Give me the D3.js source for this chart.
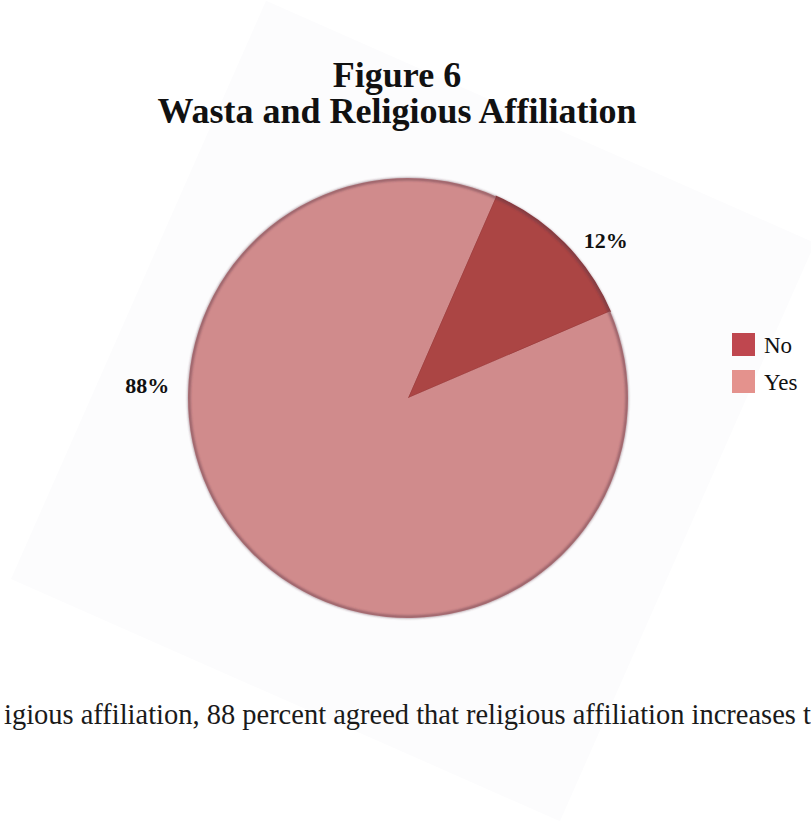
<!DOCTYPE html>
<html>
<head>
<meta charset="utf-8">
<script src="https://cdn.jsdelivr.net/npm/d3@7"></script>
<style>
  html, body { margin: 0; padding: 0; background: #ffffff; }
  svg { display: block; }
  svg text { font-family: "Liberation Serif", "Times New Roman", serif; }
</style>
</head>
<body>
<svg id="chart" width="811" height="825"></svg>
<script>
// ---- data ----
const categories = ["No", "Yes"];
const percentages = [12, 88];
const sliceColors = ["#ab4544", "#d08b8c"];
const legendColors = ["#bf474f", "#e4928d"];
const titleLines = ["Figure 6", "Wasta and Religious Affiliation"];
const bodyText = "igious affiliation, 88 percent agreed that religious affiliation increases t";

// ---- layout ----
const cx = 408, cy = 398, radius = 220;
const startDeg = 23.6;
const labelPlacement = { No: { angle: 51.4, r: 253 }, Yes: { angle: -87.1, r: 261 } };

const svg = d3.select("#chart");
const defs = svg.append("defs");
defs.append("filter").attr("id", "soft")
  .attr("x", "-10%").attr("y", "-10%").attr("width", "120%").attr("height", "120%")
  .append("feGaussianBlur").attr("stdDeviation", 0.9);

// faint tilted page behind the figure
svg.append("rect")
  .attr("x", -300).attr("y", -316).attr("width", 600).attr("height", 632)
  .attr("transform", "translate(413,411) rotate(23.8)")
  .attr("fill", "#fcfcfd");

// title, two centred lines
const title = svg.append("text")
  .attr("text-anchor", "middle")
  .attr("font-weight", "bold")
  .attr("font-size", 36)
  .attr("fill", "#111");
title.selectAll("tspan").data(titleLines).join("tspan")
  .attr("x", 397)
  .attr("y", (d, i) => 87 + i * 36)
  .text(d => d);

// pie
const data = categories.map((c, i) => ({ cat: c, value: percentages[i], color: sliceColors[i] }));
const start = startDeg * Math.PI / 180;
const pie = d3.pie().sort(null).value(d => d.value).startAngle(start).endAngle(start + 2 * Math.PI);
const arcs = pie(data);
const arc = d3.arc().innerRadius(0).outerRadius(radius);

const g = svg.append("g").attr("transform", `translate(${cx},${cy})`);
g.selectAll("path.slice").data(arcs).join("path")
  .attr("class", "slice")
  .attr("d", arc)
  .attr("fill", d => d.data.color)
  .attr("stroke", d => d.data.cat === "No" ? "#9a3c3c" : "none")
  .attr("stroke-width", 1.2);

// soft darker rim around the pie
g.append("circle")
  .attr("r", radius - 1)
  .attr("fill", "none")
  .attr("stroke", "rgba(95,55,70,0.5)")
  .attr("stroke-width", 3)
  .attr("filter", "url(#soft)");

// percentage labels
g.selectAll("text.pct").data(arcs).join("text")
  .attr("class", "pct")
  .attr("x", d => { const p = labelPlacement[d.data.cat]; return p.r * Math.sin(p.angle * Math.PI / 180); })
  .attr("y", d => { const p = labelPlacement[d.data.cat]; return -p.r * Math.cos(p.angle * Math.PI / 180) + 8; })
  .attr("text-anchor", "middle")
  .attr("font-weight", "bold")
  .attr("font-size", 22)
  .attr("fill", "#111")
  .text(d => d3.format(".0%")(d.data.value / 100));

// legend
const legend = svg.append("g").attr("transform", "translate(732,333)");
const items = legend.selectAll("g").data(categories).join("g")
  .attr("transform", (d, i) => `translate(0,${i * 37})`);
items.append("rect").attr("width", 23).attr("height", 23)
  .attr("fill", (d, i) => legendColors[i]);
items.append("text")
  .attr("x", 32).attr("y", 20)
  .attr("font-size", 23)
  .attr("fill", "#111")
  .text(d => d);

// running body text below the figure, sized to span the line
const body = svg.append("text")
  .attr("x", 4).attr("y", 724)
  .attr("font-size", 24)
  .attr("fill", "#1a1a1a");
const lead = body.append("tspan").text(bodyText.slice(0, -1));
const w = lead.node().getComputedTextLength();
body.attr("font-size", 24 * (792 / w));
body.append("tspan").text(bodyText.slice(-1));
</script>
</body>
</html>
